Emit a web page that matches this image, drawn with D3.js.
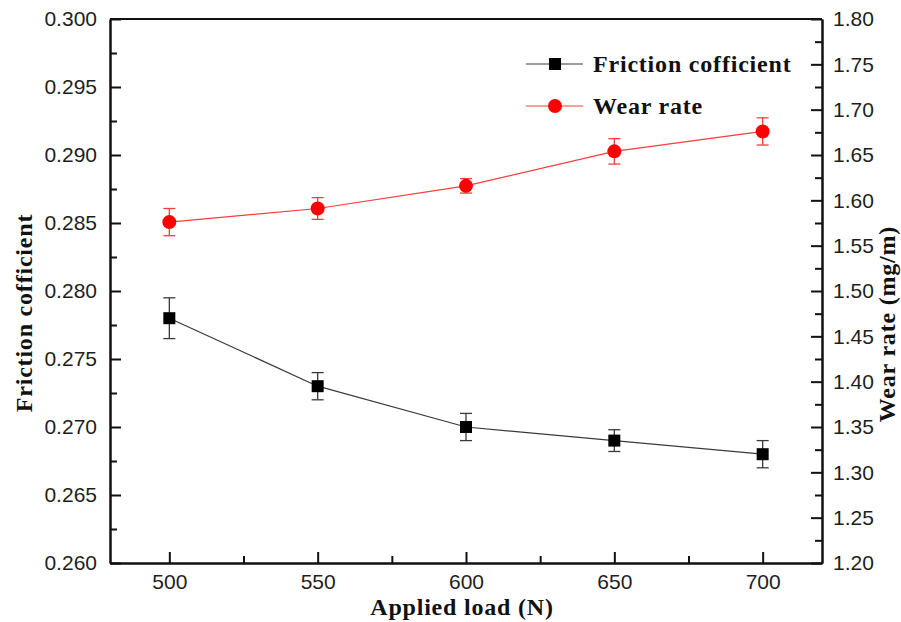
<!DOCTYPE html>
<html lang="en">
<head>
  <meta http-equiv="Content-Type" content="text/html; charset=utf-8">
  <title>Friction coefficient and wear rate</title>
  <style type="text/css">
    body  { margin: 0; background: #fff; }
    .tick text { font: 21px "Liberation Sans", Arial, sans-serif; fill: #1e1e1e; }
    .title { font: bold 24px "Liberation Serif", "Times New Roman", serif; fill: #111; letter-spacing: 0.8px; }
    .axis path, .axis line { stroke: #111; stroke-width: 2; }
  </style>
</head>
<body>
<script src="https://cdn.jsdelivr.net/npm/d3@7"></script>
<script>
  // data
  var loads    = [500, 550, 600, 650, 700];
  var friction = [0.278, 0.273, 0.270, 0.269, 0.268];
  var frictionErr = [0.0015, 0.001, 0.001, 0.0008, 0.001];
  var wear     = [1.576, 1.591, 1.616, 1.654, 1.676];
  var wearErr  = [0.015, 0.012, 0.008, 0.014, 0.015];

  var xTicks = [500, 550, 600, 650, 700];
  var xMinor = [525, 575, 625, 675];
  var leftTicks  = [0.260, 0.265, 0.270, 0.275, 0.280, 0.285, 0.290, 0.295, 0.300];
  var leftMinor  = [0.2625, 0.2675, 0.2725, 0.2775, 0.2825, 0.2875, 0.2925, 0.2975];
  var rightTicks = [1.20, 1.25, 1.30, 1.35, 1.40, 1.45, 1.50, 1.55, 1.60, 1.65, 1.70, 1.75, 1.80];
  var rightMinor = [1.225, 1.275, 1.325, 1.375, 1.425, 1.475, 1.525, 1.575, 1.625, 1.675, 1.725, 1.775];

  var width = 901, height = 622;
  var margin = { top: 19, right: 79, bottom: 59, left: 110 };
  var w = width - margin.left - margin.right;
  var h = height - margin.top - margin.bottom;

  var svg = d3.select("body").append("svg")
      .attr("width", width)
      .attr("height", height);

  var g = svg.append("g")
      .attr("transform", "translate(" + margin.left + "," + margin.top + ")");

  var x  = d3.scaleLinear().domain([480, 720]).range([0, w]);
  var yL = d3.scaleLinear().domain([0.260, 0.300]).range([h, 0]);
  var yR = d3.scaleLinear().domain([1.20, 1.80]).range([h, 0]);

  // axes, ticks pointing inward
  g.append("g").attr("class", "axis")
      .attr("transform", "translate(0," + h + ")")
      .call(d3.axisBottom(x).tickValues(xTicks).tickSizeInner(-11).tickSizeOuter(0).tickPadding(11));
  g.append("g").attr("class", "axis")
      .attr("transform", "translate(0," + h + ")")
      .call(d3.axisBottom(x).tickValues(xMinor).tickSizeInner(-7).tickSizeOuter(0).tickFormat(""));

  g.append("g").attr("class", "axis")
      .call(d3.axisLeft(yL).tickValues(leftTicks).tickSizeInner(-11).tickSizeOuter(0).tickPadding(13)
        .tickFormat(d3.format(".3f")));
  g.append("g").attr("class", "axis")
      .call(d3.axisLeft(yL).tickValues(leftMinor).tickSizeInner(-7).tickSizeOuter(0).tickFormat(""));

  g.append("g").attr("class", "axis")
      .attr("transform", "translate(" + w + ",0)")
      .call(d3.axisRight(yR).tickValues(rightTicks).tickSizeInner(-11).tickSizeOuter(0).tickPadding(11)
        .tickFormat(d3.format(".2f")));
  g.append("g").attr("class", "axis")
      .attr("transform", "translate(" + w + ",0)")
      .call(d3.axisRight(yR).tickValues(rightMinor).tickSizeInner(-7).tickSizeOuter(0).tickFormat(""));

  // top frame line
  g.append("line")
      .attr("x1", 0).attr("x2", w).attr("y1", 0).attr("y2", 0)
      .attr("stroke", "#111").attr("stroke-width", 2);

  function drawSeries(vals, errs, y, lineColor, color, shape) {
    var pts = loads.map(function(d, i) { return { x: d, y: vals[i], e: errs[i] }; });

    g.append("path")
        .datum(pts)
        .attr("fill", "none")
        .attr("stroke", lineColor)
        .attr("stroke-width", 1.2)
        .attr("d", d3.line().x(function(d) { return x(d.x); }).y(function(d) { return y(d.y); }));

    var eb = g.append("g").selectAll("g").data(pts).enter().append("g")
        .attr("stroke", lineColor).attr("stroke-width", 1.3);
    eb.append("line")
        .attr("x1", function(d) { return x(d.x); }).attr("x2", function(d) { return x(d.x); })
        .attr("y1", function(d) { return y(d.y - d.e); }).attr("y2", function(d) { return y(d.y + d.e); });
    [1, -1].forEach(function(s) {
      eb.append("line")
          .attr("x1", function(d) { return x(d.x) - 6; }).attr("x2", function(d) { return x(d.x) + 6; })
          .attr("y1", function(d) { return y(d.y + s * d.e); }).attr("y2", function(d) { return y(d.y + s * d.e); });
    });

    if (shape === "square") {
      g.append("g").selectAll("rect").data(pts).enter().append("rect")
          .attr("x", function(d) { return x(d.x) - 6; })
          .attr("y", function(d) { return y(d.y) - 6; })
          .attr("width", 12).attr("height", 12)
          .attr("fill", color);
    } else {
      g.append("g").selectAll("circle").data(pts).enter().append("circle")
          .attr("cx", function(d) { return x(d.x); })
          .attr("cy", function(d) { return y(d.y); })
          .attr("r", 7)
          .attr("fill", color);
    }
  }

  drawSeries(friction, frictionErr, yL, "#3a3a3a", "#000", "square");
  drawSeries(wear, wearErr, yR, "#ff3b3b", "#ff0000", "circle");

  // legend
  var legend = [
    { name: "Friction cofficient", line: "#3a3a3a", color: "#000", shape: "square", y: 64 },
    { name: "Wear rate", line: "#ff3b3b", color: "#ff0000", shape: "circle", y: 106 }
  ];
  var lg = svg.append("g").selectAll("g").data(legend).enter().append("g")
      .attr("transform", function(d) { return "translate(526," + d.y + ")"; });
  lg.append("line").attr("x1", 0).attr("x2", 57).attr("y1", 0).attr("y2", 0)
      .attr("stroke", function(d) { return d.line; }).attr("stroke-width", 1.2);
  lg.filter(function(d) { return d.shape === "square"; }).append("rect")
      .attr("x", 23).attr("y", -6).attr("width", 12).attr("height", 12)
      .attr("fill", function(d) { return d.color; });
  lg.filter(function(d) { return d.shape === "circle"; }).append("circle")
      .attr("cx", 29).attr("r", 7)
      .attr("fill", function(d) { return d.color; });
  lg.append("text").attr("class", "title")
      .attr("x", 67).attr("y", 8)
      .text(function(d) { return d.name; });

  // axis titles
  svg.append("text").attr("class", "title")
      .attr("text-anchor", "middle")
      .attr("x", margin.left + x(600) - 4).attr("y", 615)
      .text("Applied load (N)");
  svg.append("text").attr("class", "title")
      .attr("text-anchor", "middle")
      .attr("transform", "translate(32," + 313 + ") rotate(-90)")
      .text("Friction cofficient");
  svg.append("text").attr("class", "title")
      .attr("text-anchor", "middle")
      .attr("transform", "translate(895," + 324 + ") rotate(-90)")
      .text("Wear rate (mg/m)");
</script>
</body>
</html>
